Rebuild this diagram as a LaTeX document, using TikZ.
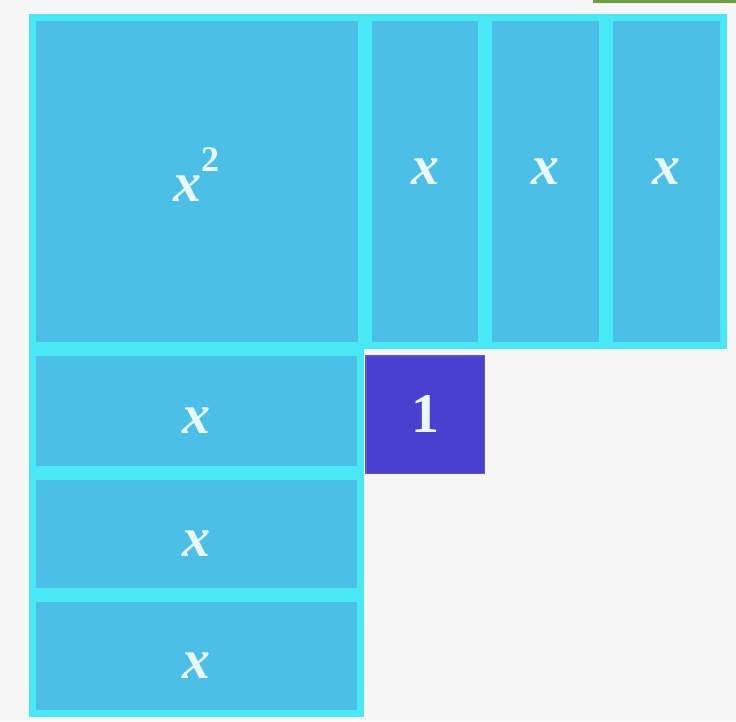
\documentclass[tikz,border=0pt]{standalone}
\usepackage{fontspec}
\setmainfont{Liberation Serif}
\usetikzlibrary{positioning}
\definecolor{tileblue}{HTML}{4BBFE5}
\definecolor{tileedge}{HTML}{48E8F5}
\definecolor{unitblue}{HTML}{4840D0}
\definecolor{unitedge}{HTML}{5A52DA}
\definecolor{labelwhite}{HTML}{EAF8FC}
\definecolor{bggray}{HTML}{F7F7F7}
\definecolor{bargreen}{HTML}{6A9F3C}

\begin{document}
\begin{tikzpicture}[x=1pt, y=-1pt,
    tile/.style={fill=tileblue, draw=tileedge, line width=7pt, inner sep=0pt, outer sep=0pt},
    unit/.style={fill=unitblue, draw=unitedge, line width=1.5pt, inner sep=0pt, outer sep=0pt},
    lbl/.style={text=labelwhite, inner sep=0pt, font=\fontsize{56}{56}\selectfont\bfseries\itshape}]
        % Nền và vạch xanh nhỏ ở góc trên
        \fill[bggray] (0,0) rectangle (736,721);
        \fill[bargreen] (593,0) rectangle (736,3);

        % Ô vuông lớn x^2 và ba thanh dọc
        \node[tile, minimum width=329pt, minimum height=328pt] (xsq) at (197,181.5) {};
        \node[tile, minimum width=113pt, minimum height=328pt] (xa) at (425,181.5) {};
        \node[tile, minimum width=114pt, minimum height=328pt] (xb) at (545.5,181.5) {};
        \node[tile, minimum width=114pt, minimum height=328pt] (xc) at (666.5,181.5) {};

        % Ba thanh ngang bên trái
        \node[tile, minimum width=328pt, minimum height=117pt] (xd) at (196.5,411) {};
        \node[tile, minimum width=328pt, minimum height=115pt] (xe) at (196.5,534) {};
        \node[tile, minimum width=328pt, minimum height=115pt] (xf) at (196.5,656) {};

        % Ô đơn vị
        \node[unit, minimum width=118.5pt, minimum height=117.5pt] (one) at (425,414.5) {};

        % Các nhãn
        \node[lbl, anchor=base] (lsq) at (196,201) {x\raisebox{30pt}{\fontsize{36}{36}\selectfont\upshape 2}};
        \node[lbl] (lxa) at ([yshift=10pt]xa.center) {x};
        \node[lbl] (lxb) at ([yshift=10pt]xb.center) {x};
        \node[lbl] (lxc) at ([yshift=10pt]xc.center) {x};
        \node[lbl] (lxd) at ([yshift=-10pt]xd.center) {x};
        \node[lbl] (lxe) at ([yshift=-10pt]xe.center) {x};
        \node[lbl] (lxf) at ([yshift=-10pt]xf.center) {x};
        \node[lbl, font=\fontsize{56}{56}\selectfont\bfseries\upshape] (lone) at (one) {1};
    \end{tikzpicture}
\end{document}
